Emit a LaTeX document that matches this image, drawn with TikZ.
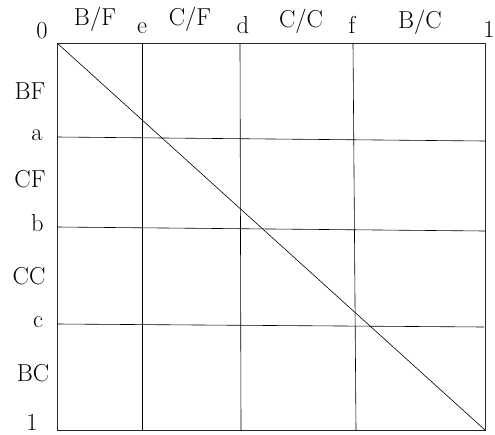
\documentclass[tikz,border=0pt]{standalone}
\begin{document}
\begin{tikzpicture}[x=1pt,y=-1pt,
  lbl/.style={inner sep=0pt,anchor=base,font=\fontsize{24.5}{29}\selectfont},
  frameline/.style={line width=0.9pt,draw=black!85},
  gridline/.style={line width=0.6pt,draw=black}]
\useasboundingbox (0,0) rectangle (495,434);
% frame corners
\coordinate (tl) at (57,43);
\coordinate (tr) at (485,43);
\coordinate (br) at (485,430);
\coordinate (bl) at (57,430);
% grid endpoints
\coordinate (eT) at (142,43);  \coordinate (eB) at (142,430);
\coordinate (dT) at (240,43);  \coordinate (dB) at (241,430);
\coordinate (fT) at (353,43);  \coordinate (fB) at (356,430);
\coordinate (aL) at (57,137);  \coordinate (aR) at (485,141);
\coordinate (bL) at (57,227);  \coordinate (bR) at (485,231);
\coordinate (cL) at (57,324);  \coordinate (cR) at (484,327);
% frame
\draw[frameline] (tl) -- (tr) -- (br) -- (bl) -- cycle;
% grid
\draw[gridline] (eT) -- (eB);
\draw[gridline] (dT) -- (dB);
\draw[gridline] (fT) -- (fB);
\draw[gridline] (aL) -- (aR);
\draw[gridline] (bL) -- (bR);
\draw[gridline] (cL) -- (cR);
\draw[gridline] (tl) -- (br);
% top labels
\node[lbl] (t0) at (42,38) {0};
\node[lbl] (tBF) at (95,25) {B/F};
\node[lbl] (te) at (142,33) {e};
\node[lbl] (tCF) at (190,25) {C/F};
\node[lbl] (td) at (243,33) {d};
\node[lbl] (tCC) at (301,27) {C/C};
\node[lbl] (tf) at (352,33) {f};
\node[lbl] (tBC) at (420,28) {B/C};
\node[lbl] (t1) at (489,37) {1};
% left labels
\node[lbl] (lBF) at (30,99) {BF};
\node[lbl] (la) at (37,140) {a};
\node[lbl] (lCF) at (30,187) {CF};
\node[lbl] (lb) at (37.5,231) {b};
\node[lbl] (lCC) at (29,284) {CC};
\node[lbl] (lc) at (38,327) {c};
\node[lbl] (lBC) at (33,381) {BC};
\node[lbl] (l1) at (32,430) {1};
\end{tikzpicture}
\end{document}
